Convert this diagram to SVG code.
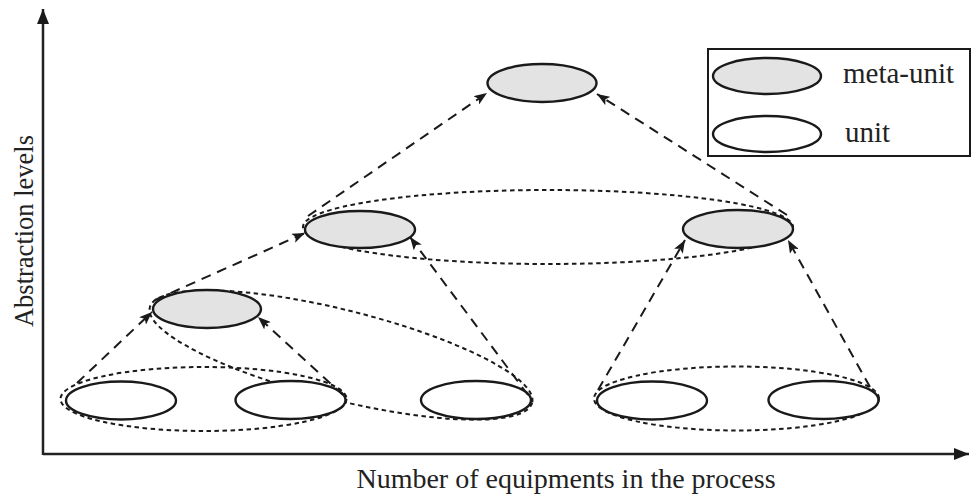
<svg xmlns="http://www.w3.org/2000/svg" width="972" height="500" viewBox="0 0 972 500">
<style>
.unit{fill:#ffffff;stroke:#1a1a1a;stroke-width:2.4}
.meta{fill:#e3e3e3;stroke:#1a1a1a;stroke-width:2.4}
.group{fill:none;stroke:#1a1a1a;stroke-width:2;stroke-dasharray:4.5 3.5}
.arrow{fill:none;stroke:#1a1a1a;stroke-width:2;stroke-dasharray:10 7;marker-end:url(#ah)}
.axis{fill:none;stroke:#222;stroke-width:2.5}
.lbl{font-family:"Liberation Serif","Times New Roman",serif;fill:#222}
</style>
<defs>
<marker id="ah" markerUnits="userSpaceOnUse" markerWidth="14" markerHeight="10" refX="13" refY="5" orient="auto">
<path d="M0,0 L13,5 L0,10 L3,5 z" fill="#1a1a1a"/>
</marker>
<marker id="axh" markerUnits="userSpaceOnUse" markerWidth="16" markerHeight="12" refX="15" refY="6" orient="auto">
<path d="M0,0 L15,6 L0,12 z" fill="#1a1a1a"/>
</marker>
</defs>
<rect x="0" y="0" width="972" height="500" fill="#ffffff"/>
<g id="axes">
<line class="axis" x1="43" y1="455" x2="43" y2="9" marker-end="url(#axh)"/>
<line class="axis" x1="43" y1="454" x2="969" y2="454" marker-end="url(#axh)"/>
<text class="lbl" font-size="26.5" text-anchor="middle" transform="translate(33,231) rotate(-90)">Abstraction levels</text>
<text class="lbl" font-size="28" x="566" y="488" text-anchor="middle">Number of equipments in the process</text>
</g>
<g id="groups">
<ellipse class="group" cx="203.5" cy="399" rx="143" ry="32"/>
<ellipse class="group" cx="736.5" cy="398.5" rx="142.5" ry="32"/>
<ellipse class="group" cx="341" cy="355" rx="197" ry="45" transform="rotate(14 341 355)"/>
<ellipse class="group" cx="548" cy="227" rx="245" ry="37"/>
</g>
<g id="unit1"><ellipse class="unit" cx="121" cy="400.5" rx="55" ry="19"/></g>
<g id="unit2"><ellipse class="unit" cx="290.5" cy="400" rx="55" ry="19"/></g>
<g id="unit3"><ellipse class="unit" cx="476" cy="400" rx="55" ry="19"/></g>
<g id="unit4"><ellipse class="unit" cx="652" cy="400.5" rx="55" ry="19"/></g>
<g id="unit5"><ellipse class="unit" cx="823.5" cy="400" rx="55" ry="19"/></g>
<g id="meta3"><ellipse class="meta" cx="207" cy="309" rx="54" ry="19"/></g>
<g id="meta2a"><ellipse class="meta" cx="360" cy="229.5" rx="55" ry="18.5"/></g>
<g id="meta2b"><ellipse class="meta" cx="738" cy="229" rx="55" ry="19"/></g>
<g id="meta1"><ellipse class="meta" cx="542" cy="83" rx="54.5" ry="19"/></g>
<g id="connectors">
<line class="arrow" x1="77" y1="383" x2="152" y2="312"/>
<line class="arrow" x1="343" y1="395" x2="258" y2="317"/>
<line class="arrow" x1="155" y1="300" x2="305" y2="233"/>
<line class="arrow" x1="528" y1="395" x2="410" y2="237"/>
<line class="arrow" x1="308" y1="216" x2="487" y2="93"/>
<line class="arrow" x1="787" y1="215" x2="597" y2="94"/>
<line class="arrow" x1="598" y1="390" x2="685" y2="240"/>
<line class="arrow" x1="870" y1="387" x2="788" y2="240"/>
</g>
<g id="legend">
<rect x="708" y="49" width="262" height="107" fill="#ffffff" stroke="#1a1a1a" stroke-width="2"/>
<ellipse class="meta" cx="767" cy="76" rx="54" ry="18"/>
<ellipse class="unit" cx="767" cy="134" rx="54" ry="18"/>
<text class="lbl" font-size="29" x="843" y="83">meta-unit</text>
<text class="lbl" font-size="29" x="845" y="142">unit</text>
</g>
</svg>
